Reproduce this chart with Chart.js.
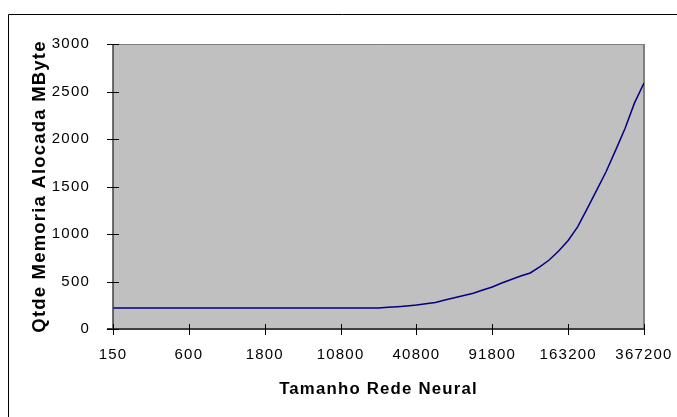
<!DOCTYPE html>
<html>
<head>
<meta charset="utf-8">
<script src="https://cdn.jsdelivr.net/npm/chart.js@4.4.1/dist/chart.umd.min.js"></script>
<style>
  html, body { margin: 0; padding: 0; background: #fff; }
  #wrap { width: 677px; height: 417px; position: relative; }
</style>
</head>
<body>
<div id="wrap"><canvas id="c"></canvas></div>
<script>
// Network size labels shown every STEP samples along the horizontal axis
const tickLabels = ['150', '600', '1800', '10800', '40800', '91800', '163200', '367200'];
const STEP = 8;

// Allocated memory (MByte) for each sampled network size
const memoryMB = [
  220, 220, 220, 220, 220, 220, 220, 220,
  220, 220, 220, 220, 220, 220, 220, 220,
  220, 220, 220, 220, 220, 220, 220, 220,
  220, 220, 220, 220, 222, 228, 235, 243,
  252, 267, 280, 305, 330, 353, 376, 410,
  442, 484, 521, 558, 590, 653, 726, 821,
  932, 1074, 1265, 1460, 1655, 1880, 2110, 2380,
  2590
];

const yTicks = { min: 0, max: 3000, step: 500 };

const FONT = 'Liberation Sans, Arial, sans-serif';
const SPACING = '1.2px';

// Wider letter spacing for every text drawn on the canvas
const spacingPlugin = {
  id: 'spacing',
  beforeLayout(chart) { chart.ctx.letterSpacing = SPACING; },
  beforeDraw(chart) { chart.ctx.letterSpacing = SPACING; }
};

// Grey plot background, frame lines, axis lines and crossing tick marks
const framePlugin = {
  id: 'frame',
  beforeDatasetsDraw(chart) {
    const { ctx, chartArea: a } = chart;
    ctx.save();
    ctx.fillStyle = '#c0c0c0';
    ctx.fillRect(a.left, a.top, a.right - a.left, a.bottom - a.top);

    // top and right edges of the plot area
    ctx.strokeStyle = '#808080';
    ctx.lineWidth = 1;
    ctx.beginPath();
    ctx.moveTo(a.left, a.top + 0.5);
    ctx.lineTo(a.right, a.top + 0.5);
    ctx.stroke();
    ctx.lineWidth = 2;
    ctx.beginPath();
    ctx.moveTo(a.right, a.top);
    ctx.lineTo(a.right, a.bottom);
    ctx.stroke();
    ctx.restore();
  },
  afterDatasetsDraw(chart) {
    const { ctx, chartArea: a, scales } = chart;
    const x = scales.x, y = scales.y;
    ctx.save();
    ctx.strokeStyle = '#404040';
    ctx.lineWidth = 1.5;
    ctx.beginPath();
    ctx.moveTo(a.left, a.top);
    ctx.lineTo(a.left, a.bottom);
    ctx.stroke();
    ctx.lineWidth = 2;
    ctx.beginPath();
    ctx.moveTo(a.left - 6, a.bottom);
    ctx.lineTo(a.right, a.bottom);
    ctx.stroke();

    ctx.strokeStyle = '#000';
    ctx.lineWidth = 1;
    ctx.beginPath();
    y.ticks.forEach(t => {
      const py = Math.round(y.getPixelForValue(t.value)) + 0.5;
      ctx.moveTo(a.left - 6, py);
      ctx.lineTo(a.left + 6, py);
    });
    x.ticks.forEach(t => {
      const px = Math.round(x.getPixelForValue(t.value)) + 0.5;
      ctx.moveTo(px, a.bottom - 5);
      ctx.lineTo(px, a.bottom + 6);
    });
    ctx.stroke();

    // outer chart frame
    ctx.strokeStyle = '#000';
    ctx.lineWidth = 1;
    ctx.beginPath();
    ctx.moveTo(8.5, chart.height);
    ctx.lineTo(8.5, 14.5);
    ctx.lineTo(chart.width, 14.5);
    ctx.stroke();
    ctx.restore();
  }
};

new Chart(document.getElementById('c'), {
  type: 'line',
  data: {
    datasets: [{
      data: memoryMB.map((v, i) => ({ x: i, y: v })),
      borderColor: '#000080',
      borderWidth: 1.5,
      pointRadius: 0,
      tension: 0,
      fill: false
    }]
  },
  options: {
    responsive: true,
    maintainAspectRatio: false,
    animation: false,
    events: [],
    layout: { padding: { top: 44, right: 33, left: 0, bottom: 0 } },
    plugins: { legend: { display: false }, tooltip: { enabled: false } },
    scales: {
      x: {
        type: 'linear',
        min: 0,
        max: (tickLabels.length - 1) * STEP,
        grid: { display: false },
        border: { display: false },
        ticks: {
          stepSize: STEP,
          autoSkip: false,
          maxRotation: 0,
          padding: 9,
          color: '#000',
          font: { family: FONT, size: 15 },
          callback: v => tickLabels[v / STEP] ?? ''
        },
        title: {
          display: true,
          text: 'Tamanho Rede Neural',
          color: '#000',
          font: { family: FONT, size: 16.8, weight: 'bold' },
          padding: { top: 0, bottom: 18 }
        },
        afterFit(s) { s.height = 88; s.paddingLeft = 0; s.paddingRight = 0; }
      },
      y: {
        min: yTicks.min,
        max: yTicks.max,
        grid: { display: false },
        border: { display: false },
        ticks: {
          stepSize: yTicks.step,
          padding: 15,
          color: '#000',
          font: { family: FONT, size: 15 },
          callback: v => String(v)
        },
        title: {
          display: true,
          text: 'Qtde Memoria Alocada MByte',
          color: '#000',
          font: { family: FONT, size: 18.5, weight: 'bold' },
          padding: { top: 29, bottom: 0 }
        },
        afterFit(s) { s.width = 113; s.paddingTop = 0; s.paddingBottom = 0; }
      }
    }
  },
  plugins: [spacingPlugin, framePlugin]
});
</script>
</body>
</html>
